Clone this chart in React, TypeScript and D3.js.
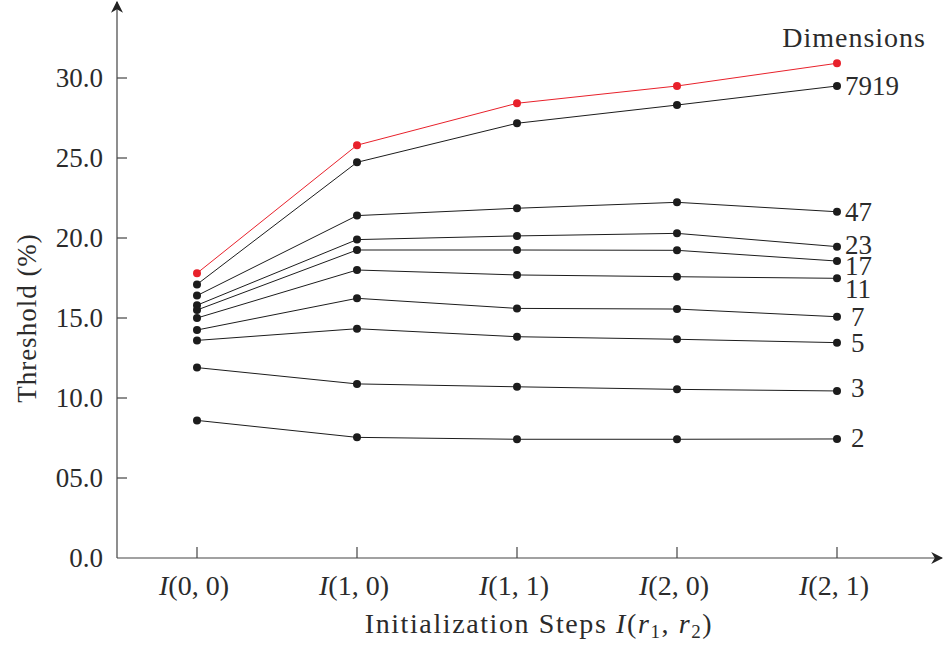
import * as d3 from "d3";
import { useEffect, useRef } from "react";

const steps = ["(0, 0)", "(1, 0)", "(1, 1)", "(2, 0)", "(2, 1)"];
const yTicks = [0, 5, 10, 15, 20, 25, 30];
const yTickLabels = ["0.0", "05.0", "10.0", "15.0", "20.0", "25.0", "30.0"];

const redLine = [17.8, 25.8, 28.42, 29.5, 30.92];
const dim7919 = [17.1, 24.73, 27.17, 28.31, 29.5];
const dim47 = [16.4, 21.4, 21.86, 22.23, 21.64];
const dim23 = [15.8, 19.9, 20.13, 20.29, 19.46];
const dim17 = [15.5, 19.25, 19.25, 19.23, 18.56];
const dim11 = [15.0, 18.0, 17.69, 17.58, 17.48];
const dim7 = [14.25, 16.23, 15.6, 15.56, 15.08];
const dim5 = [13.6, 14.33, 13.83, 13.67, 13.46];
const dim3 = [11.9, 10.88, 10.7, 10.54, 10.44];
const dim2 = [8.6, 7.54, 7.42, 7.42, 7.44];

const blackSeries = [
  { label: "7919", values: dim7919 },
  { label: "47", values: dim47 },
  { label: "23", values: dim23 },
  { label: "17", values: dim17 },
  { label: "11", values: dim11 },
  { label: "7", values: dim7 },
  { label: "5", values: dim5 },
  { label: "3", values: dim3 },
  { label: "2", values: dim2 },
];

// pixel nudges so the end labels don't run into each other
const labelNudge: Record<string, number> = { "23": -2, "17": 5, "11": 11, "3": -3, "2": -1 };

const FONT = "'Liberation Serif', 'DejaVu Serif', serif";
const TEXT = "#2b2b2b";

export default function App() {
  const ref = useRef<SVGSVGElement>(null);

  useEffect(() => {
    const svg = d3.select(ref.current);
    svg.selectAll("*").remove();

    const width = 944;
    const height = 654;
    const axisX = 117;
    const axisY = 558;

    const x = d3.scalePoint<string>().domain(steps).range([197, 837]);
    const y = d3.scaleLinear().domain([0, 30]).range([axisY, 78]);

    svg.attr("width", width).attr("height", height);

    const defs = svg.append("defs");
    defs
      .append("marker")
      .attr("id", "arrow")
      .attr("viewBox", "0 0 10 10")
      .attr("refX", 9)
      .attr("refY", 5)
      .attr("markerWidth", 12)
      .attr("markerHeight", 12)
      .attr("markerUnits", "userSpaceOnUse")
      .attr("orient", "auto")
      .append("path")
      .attr("d", "M0,0 L10,5 L0,10 L3,5 Z")
      .attr("fill", "#222");

    // axes
    svg
      .append("line")
      .attr("x1", axisX)
      .attr("y1", axisY)
      .attr("x2", axisX)
      .attr("y2", 2)
      .attr("stroke", "#444")
      .attr("stroke-width", 1.2)
      .attr("marker-end", "url(#arrow)");
    svg
      .append("line")
      .attr("x1", axisX)
      .attr("y1", axisY)
      .attr("x2", 942)
      .attr("y2", axisY)
      .attr("stroke", "#444")
      .attr("stroke-width", 1.2)
      .attr("marker-end", "url(#arrow)");

    // y ticks
    yTicks.forEach((t, i) => {
      if (t > 0) {
        svg
          .append("line")
          .attr("x1", axisX)
          .attr("x2", axisX + 10)
          .attr("y1", y(t))
          .attr("y2", y(t))
          .attr("stroke", "#444")
          .attr("stroke-width", 1.2);
      }
      svg
        .append("text")
        .attr("x", 103)
        .attr("y", y(t))
        .attr("dy", "0.33em")
        .attr("text-anchor", "end")
        .attr("font-family", FONT)
        .attr("font-size", 27)
        .attr("fill", TEXT)
        .text(yTickLabels[i]);
    });

    // x ticks
    steps.forEach((s) => {
      svg
        .append("line")
        .attr("x1", x(s)!)
        .attr("x2", x(s)!)
        .attr("y1", axisY)
        .attr("y2", axisY - 11)
        .attr("stroke", "#444")
        .attr("stroke-width", 1.2);
      const t = svg
        .append("text")
        .attr("x", x(s)! - 3)
        .attr("y", 595)
        .attr("text-anchor", "middle")
        .attr("font-family", FONT)
        .attr("font-size", 28)
        .attr("fill", TEXT);
      t.append("tspan").attr("font-style", "italic").text("I");
      t.append("tspan").text(s);
    });

    // axis titles
    const xt = svg
      .append("text")
      .attr("x", 539)
      .attr("y", 633)
      .attr("text-anchor", "middle")
      .attr("font-family", FONT)
      .attr("font-size", 28)
      .attr("letter-spacing", 1.6)
      .attr("fill", TEXT);
    xt.append("tspan").text("Initialization Steps ");
    xt.append("tspan").attr("font-style", "italic").text("I");
    xt.append("tspan").text("(");
    xt.append("tspan").attr("font-style", "italic").text("r");
    xt.append("tspan").attr("font-size", 19).attr("dy", 5).text("1");
    xt.append("tspan").attr("dy", -5).text(", ");
    xt.append("tspan").attr("font-style", "italic").text("r");
    xt.append("tspan").attr("font-size", 19).attr("dy", 5).text("2");
    xt.append("tspan").attr("dy", -5).text(")");

    svg
      .append("text")
      .attr("transform", `translate(36,${318}) rotate(-90)`)
      .attr("text-anchor", "middle")
      .attr("font-family", FONT)
      .attr("font-size", 27)
      .attr("letter-spacing", 1)
      .attr("fill", TEXT)
      .text("Threshold (%)");

    svg
      .append("text")
      .attr("x", 926)
      .attr("y", 47)
      .attr("text-anchor", "end")
      .attr("font-family", FONT)
      .attr("font-size", 28)
      .attr("letter-spacing", 1)
      .attr("fill", TEXT)
      .text("Dimensions");

    const line = d3
      .line<number>()
      .x((_, i) => x(steps[i])!)
      .y((d) => y(d));

    const drawSeries = (values: number[], color: string) => {
      svg
        .append("path")
        .datum(values)
        .attr("d", line)
        .attr("fill", "none")
        .attr("stroke", color)
        .attr("stroke-width", 1);
      svg
        .append("g")
        .selectAll("circle")
        .data(values)
        .join("circle")
        .attr("cx", (_, i) => x(steps[i])!)
        .attr("cy", (d) => y(d))
        .attr("r", 4)
        .attr("fill", color);
    };

    blackSeries.forEach((s) => drawSeries(s.values, "#1c1c1c"));
    drawSeries(redLine, "#e8212b");

    blackSeries.forEach((s) => {
      const last = s.values[s.values.length - 1];
      const single = s.label.length === 1;
      svg
        .append("text")
        .attr("x", single ? 851 : 845)
        .attr("y", y(last) + (labelNudge[s.label] ?? 0))
        .attr("dy", "0.33em")
        .attr("font-family", FONT)
        .attr("font-size", 27)
        .attr("fill", TEXT)
        .text(s.label);
    });
  }, []);

  return <svg ref={ref} style={{ position: "absolute", left: 0, top: 0 }} />;
}
